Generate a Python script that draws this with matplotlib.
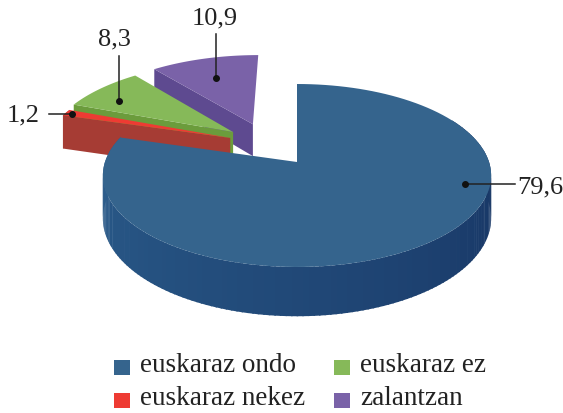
import numpy as np
import matplotlib
matplotlib.use('Agg')
import matplotlib.pyplot as plt
from matplotlib.patches import Polygon, Rectangle

# data, clockwise from 12 o'clock
categories = ['euskaraz ondo', 'euskaraz nekez', 'euskaraz ez', 'zalantzan']
values = [79.6, 1.2, 8.3, 10.9]

# style per slice
top_colors = ['#35648d', '#ee3b33', '#86b959', '#7a62a8']
face_colors = ['#2b5a85', '#a63c34', '#6b9c3c', '#5e4a90']
offsets = [(0.0, 0.0), (-0.362, 0.28), (-0.35, 0.352), (-0.245, 0.45)]
depths = [42, 36, 34, 34]

# perspective settings (pixels)
CX, CY = 297, 163
A, B = 192, 89.5
K = 0.1475


def project(x, y, z=0.0):
    s = 1 / (1 + K * y)
    return CX + s * x * A, CY - s * (y * B + z)


def arc(t0, t1, off, n=120):
    t = np.radians(np.linspace(t0, t1, n))
    return off[0] + np.sin(t), off[1] + np.cos(t)


def draw_slice(ax, t0, t1, off, top, face, depth):
    xs, ys = arc(t0, t1, off)
    if t1 < 300:
        # only the red one shows its rounded outer wall
        upper = project(xs, ys, 0)
        lower = project(xs, ys, -depth)
        ax.add_patch(Polygon(np.r_[np.c_[upper], np.c_[lower][::-1]], color=face, lw=0))
    # flat cut face on the leading edge
    p = [project(off[0], off[1], 0), project(xs[0], ys[0], 0),
         project(xs[0], ys[0], -depth), project(off[0], off[1], -depth)]
    ax.add_patch(Polygon(p, color=face, lw=0))
    pts = [project(off[0], off[1])] + list(zip(*project(xs, ys)))
    ax.add_patch(Polygon(pts, color=top, lw=0))


def draw_blue_wall(ax, t0, t1, depth):
    left = np.array([0x2c, 0x5f, 0x8e]) / 255
    right = np.array([0x14, 0x2f, 0x5e]) / 255
    edges = np.linspace(t0, t1, 160)
    for a, b in zip(edges[:-1], edges[1:]):
        xs, ys = arc(a, b + 0.4, (0, 0), n=4)
        u = project(xs, ys, 0)
        l = project(xs, ys, -depth)
        f = (a - t0) / (t1 - t0)
        col = right + (left - right) * f
        ax.add_patch(Polygon(np.r_[np.c_[u], np.c_[l][::-1]], color=col, lw=0))


fig = plt.figure(figsize=(5.63, 4.14), dpi=100)
ax = fig.add_axes([0, 0, 1, 1])
ax.set_xlim(0, 563)
ax.set_ylim(414, 0)
ax.axis('off')

plt.rcParams['font.family'] = ['Liberation Serif', 'DejaVu Serif']

edges = np.r_[0, np.cumsum(values)] / sum(values) * 360

# back to front: purple, green, red, blue
for i in [3, 2, 1]:
    draw_slice(ax, edges[i], edges[i + 1], offsets[i], top_colors[i], face_colors[i], depths[i])
draw_blue_wall(ax, 60, edges[1], depths[0])
xs, ys = arc(edges[0], edges[1], offsets[0])
ax.add_patch(Polygon([project(0, 0)] + list(zip(*project(xs, ys))), color=top_colors[0], lw=0))

# leader lines: text position, line start, line end
labels = [
    (517, 187, (465, 185), (515, 185), 'left', 0),
    (23, 115, (72, 115), (49, 115), 'center', 1),
    (114, 39, (119, 102), (119, 57), 'center', 2),
    (215, 18, (216, 79), (216, 35), 'center', 3),
]
for tx, ty, dot, end, ha, idx in labels:
    ax.plot([dot[0], end[0]], [dot[1], end[1]], color='#222222', lw=1.1)
    ax.plot(dot[0], dot[1], 'o', color='#111111', ms=4)
    ax.text(tx, ty, f'{values[idx]:.1f}'.replace('.', ','), ha=ha, va='center',
            fontsize=19, color='#222222')

# legend, laid out by hand like the original
legend_pos = [(114, 361, 140), (114, 394, 140), (334, 361, 360), (334, 394, 360)]
for (sx, sy, tx), name, col in zip(legend_pos, categories, top_colors):
    ax.add_patch(Rectangle((sx, sy), 16, 15, color=col, lw=0))
    ax.text(tx, sy + 5, name, ha='left', va='center', fontsize=19.5, color='#222222')

fig.savefig('out.png', dpi=100)
